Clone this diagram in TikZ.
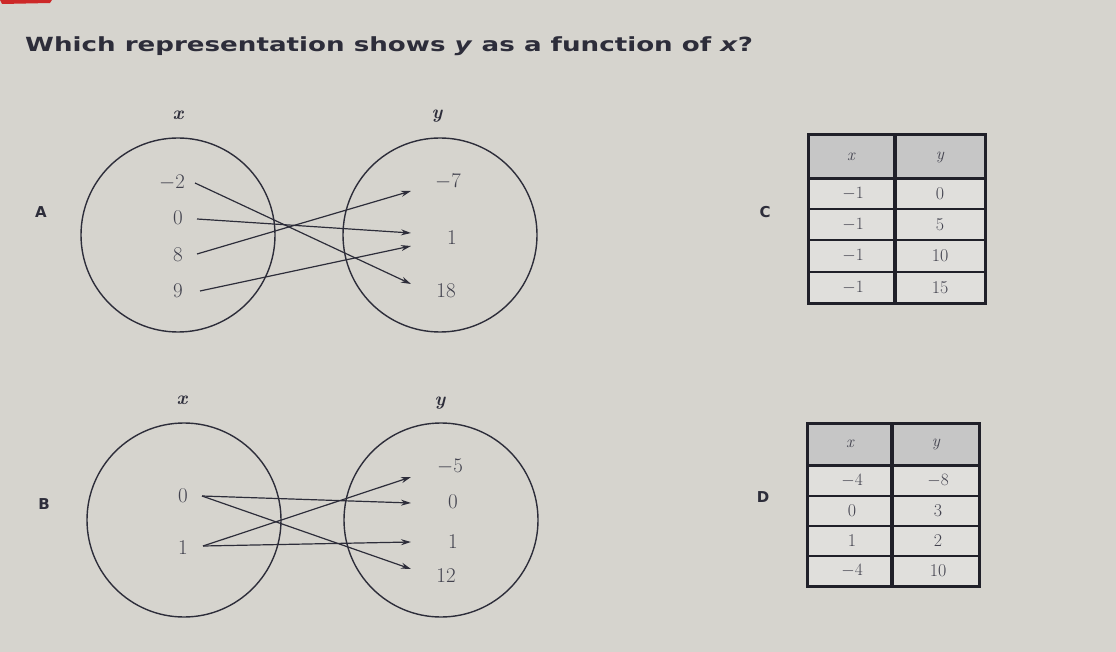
\documentclass[tikz,border=0pt]{standalone}
\usepackage{fontspec}
\usepackage{graphicx}
\newfontfamily\titlefont{DejaVu Sans}
\usetikzlibrary{arrows.meta}
\definecolor{bg}{RGB}{214,212,206}
\definecolor{ink}{RGB}{45,45,58}
\definecolor{hdr}{RGB}{198,198,198}
\definecolor{body}{RGB}{224,223,220}
\definecolor{redmark}{RGB}{205,40,40}
\begin{document}
\begin{tikzpicture}[x=1pt,y=-1pt,
  setc/.style={draw=ink, line width=1.4pt, circle, minimum size=194pt, inner sep=0pt},
  num/.style={text=ink!90, font=\fontsize{21}{23}\selectfont, inner sep=0pt},
  tnum/.style={text=ink!90, font=\fontsize{18}{20}\selectfont, inner sep=0pt},
  hnum/.style={text=ink!90, font=\fontsize{17}{19}\selectfont\itshape, inner sep=0pt},
  axlab/.style={text=ink, font=\fontsize{19}{21}\selectfont\bfseries\itshape, inner sep=0pt},
  letter/.style={text=ink, font=\titlefont\bfseries\fontsize{15}{17}\selectfont, inner sep=0pt},
  maparrow/.style={draw=ink, line width=1.2pt, -{Stealth[length=10pt,width=6pt]}},
  thick border/.style={draw=ink!70!black, line width=3pt},
  thin rule/.style={draw=ink!70!black, line width=1.1pt}]
\fill[bg] (0,0) rectangle (1116,652);
\useasboundingbox (0,0) rectangle (1116,652);
\fill[redmark] (0,0) -- (52,0) -- (50,3) -- (2,4) -- cycle;

% title
\node[anchor=west, text=ink, font=\titlefont\bfseries\fontsize{19.5}{22}\selectfont, inner sep=0pt] (title) at (25,46)
  {\scalebox{1.34}[1]{Which representation shows \textit{y} as a function of \textit{x}?}};

% ---------------- A ----------------
\node[letter] (lA) at (41,212) {A};
\node[setc] (AX) at (178,235) {};
\node[setc] (AY) at (440,235) {};
\node[axlab] (AXl) at (178,115) {x};
\node[axlab] (AYl) at (437,116) {y};
\node[num] (am2) at (172,183) {$-2$};
\node[num] (a0) at (178,218) {0};
\node[num] (a8) at (178,255) {8};
\node[num] (a9) at (178,291) {9};
\node[num] (bm7) at (448,182) {$-7$};
\node[num] (b1) at (452,238) {1};
\node[num] (b18) at (446,291) {18};
\coordinate (sA1) at (195,183);
\coordinate (sA2) at (197,219);
\coordinate (sA3) at (197,254);
\coordinate (sA4) at (200,291);
\coordinate (tA18) at (411,284);
\coordinate (tA1a) at (411,233);
\coordinate (tA1b) at (411,246);
\coordinate (tAm7) at (411,191);
\draw[maparrow] (sA1) -- (tA18);
\draw[maparrow] (sA2) -- (tA1a);
\draw[maparrow] (sA3) -- (tAm7);
\draw[maparrow] (sA4) -- (tA1b);

% ---------------- B ----------------
\node[letter] (lB) at (44,504) {B};
\node[setc] (BX) at (184,520) {};
\node[setc] (BY) at (441,520) {};
\node[axlab] (BXl) at (182,400) {x};
\node[axlab] (BYl) at (440,403) {y};
\node[num] (c0) at (183,496) {0};
\node[num] (c1) at (183,548) {1};
\node[num] (dm5) at (450,467) {$-5$};
\node[num] (d0) at (453,502) {0};
\node[num] (d1) at (453,542) {1};
\node[num] (d12) at (446,576) {12};
\coordinate (sB0) at (202,496);
\coordinate (sB1) at (203,546);
\coordinate (tB0) at (411,503);
\coordinate (tB12) at (411,569);
\coordinate (tBm5) at (411,477);
\coordinate (tB1) at (411,542);
\draw[maparrow] (sB0) -- (tB0);
\draw[maparrow] (sB0) -- (tB12);
\draw[maparrow] (sB1) -- (tBm5);
\draw[maparrow] (sB1) -- (tB1);

% ---------------- C table ----------------
\node[letter] (lC) at (765,212) {C};
\fill[hdr] (808,135) rectangle (985,179);
\fill[body] (808,179) rectangle (985,303);
\draw[thin rule] (808,209) -- (985,209);
\draw[thin rule] (808,240) -- (985,240);
\draw[thin rule] (808,272) -- (985,272);
\draw[thick border] (808,179) -- (985,179);
\draw[draw=ink!70!black, line width=4.5pt] (895,135) -- (895,303);
\draw[thick border] (808,135) rectangle (985,303);
\node[hnum] (Cx) at (851,157) {x};
\node[hnum] (Cy) at (940,157) {y};
\node[tnum] (C11) at (853,194) {$-1$};
\node[tnum] (C12) at (940,194) {0};
\node[tnum] (C21) at (853,225) {$-1$};
\node[tnum] (C22) at (940,225) {5};
\node[tnum] (C31) at (853,256) {$-1$};
\node[tnum] (C32) at (940,256) {10};
\node[tnum] (C41) at (853,288) {$-1$};
\node[tnum] (C42) at (940,288) {15};

% ---------------- D table ----------------
\node[letter] (lD) at (763,497) {D};
\fill[hdr] (807,423) rectangle (979,465);
\fill[body] (807,465) rectangle (979,586);
\draw[thin rule] (807,496) -- (979,496);
\draw[thin rule] (807,526) -- (979,526);
\draw[thin rule] (807,556) -- (979,556);
\draw[thick border] (807,465) -- (979,465);
\draw[draw=ink!70!black, line width=4.5pt] (892,423) -- (892,586);
\draw[thick border] (807,423) rectangle (979,586);
\node[hnum] (Dx) at (850,444) {x};
\node[hnum] (Dy) at (936,444) {y};
\node[tnum] (D11) at (852,481) {$-4$};
\node[tnum] (D12) at (938,481) {$-8$};
\node[tnum] (D21) at (852,511) {0};
\node[tnum] (D22) at (938,511) {3};
\node[tnum] (D31) at (852,541) {1};
\node[tnum] (D32) at (938,541) {2};
\node[tnum] (D41) at (852,571) {$-4$};
\node[tnum] (D42) at (938,571) {10};
\end{tikzpicture}
\end{document}
